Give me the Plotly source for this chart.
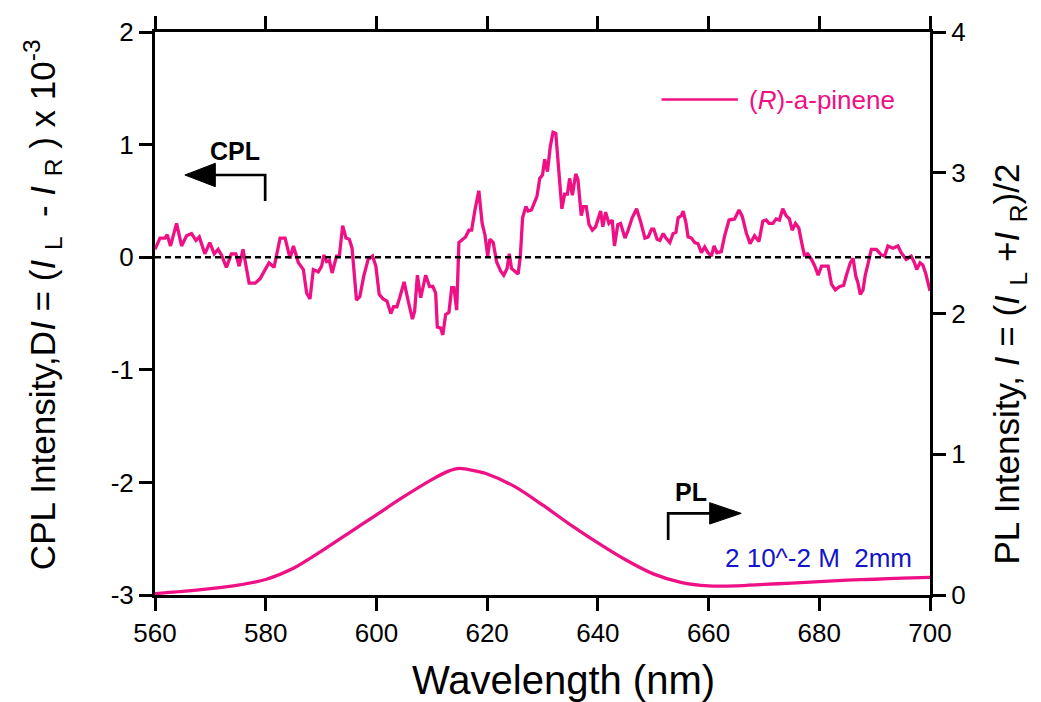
import plotly.graph_objects as go

# ---------------- data ----------------
wavelength_cpl = [
    560.0, 560.9, 561.8, 562.2, 562.8, 563.9, 564.8, 565.7, 566.6, 567.4,
    568.0, 569.0, 569.9, 570.7, 571.4, 572.0, 572.9, 573.8, 574.6, 575.2,
    575.9, 577.0, 578.1, 579.0, 579.9, 580.6, 581.5, 582.6, 583.5, 584.4,
    585.0, 585.9, 586.8, 587.4, 588.0, 588.6, 589.5, 590.1, 590.5, 591.0,
    591.5, 592.0, 592.8, 593.3, 593.9, 594.5, 595.1, 595.6, 596.4, 597.0,
    597.7, 598.5, 599.3, 599.9, 600.5, 601.2, 601.9, 602.6, 603.1, 603.7,
    604.2, 605.0, 605.7, 606.5, 606.9, 607.4, 608.0, 608.9, 609.6, 610.2,
    610.7, 611.0, 611.6, 612.0, 612.5, 613.1, 613.6, 614.0, 614.5, 614.9,
    615.6, 616.1, 616.7, 617.2, 617.8, 618.5, 619.1, 619.6, 620.1, 620.5,
    621.1, 621.7, 622.4, 623.0, 623.6, 624.0, 624.4, 625.0, 625.6, 626.0,
    626.4, 627.0, 627.4, 628.0, 628.6, 629.0, 629.5, 630.0, 630.4, 630.9,
    631.4, 631.9, 632.4, 632.8, 633.2, 633.5, 634.0, 634.5, 634.9, 635.4,
    636.0, 636.4, 637.0, 637.4, 637.9, 638.4, 639.0, 639.6, 640.5, 640.9,
    641.4, 642.0, 642.6, 643.0, 643.6, 644.1, 644.9, 645.4, 646.2, 647.0,
    647.7, 648.5, 649.1, 649.7, 650.1, 650.7, 651.2, 651.8, 652.3, 653.0,
    653.6, 654.1, 654.5, 655.1, 655.4, 655.9, 656.3, 656.9, 657.5, 658.1,
    658.7, 659.3, 659.9, 660.5, 661.0, 661.5, 662.3, 662.9, 663.7, 664.7,
    665.5, 666.1, 666.8, 667.5, 668.3, 669.1, 669.8, 670.4, 670.9, 671.6,
    672.2, 672.8, 673.4, 674.0, 674.6, 675.1, 675.7, 676.3, 676.9, 677.3,
    677.9, 678.6, 679.2, 679.8, 680.4, 681.6, 682.2, 682.9, 683.7, 684.4,
    684.9, 685.6, 686.1, 686.6, 687.0, 687.4, 687.9, 688.3, 688.8, 689.4,
    690.3, 691.2, 691.8, 692.4, 693.3, 694.2, 694.8, 695.7, 696.6, 697.2,
    697.6, 698.2, 698.7, 699.2, 700.0,
]
cpl_intensity = [
    0.07, 0.17, 0.17, 0.20, 0.10, 0.30, 0.10, 0.19, 0.21, 0.15,
    0.18, 0.03, 0.13, 0.03, 0.07, 0.02, -0.09, 0.03, 0.03, -0.08,
    0.07, -0.23, -0.23, -0.19, -0.11, -0.05, -0.09, 0.17, 0.17, -0.01,
    0.10, -0.05, -0.11, -0.32, -0.37, -0.11, -0.13, -0.08, 0.02, -0.04,
    -0.03, -0.14, 0.01, 0.01, 0.28, 0.17, 0.16, 0.08, -0.38, -0.35,
    -0.17, -0.02, 0.01, -0.08, -0.33, -0.37, -0.39, -0.50, -0.44, -0.44,
    -0.36, -0.22, -0.38, -0.55, -0.48, -0.16, -0.36, -0.16, -0.26, -0.26,
    -0.32, -0.62, -0.63, -0.69, -0.51, -0.49, -0.27, -0.27, -0.47, 0.13,
    0.16, 0.18, 0.24, 0.24, 0.42, 0.59, 0.30, 0.20, 0.01, 0.16,
    0.13, -0.04, -0.12, -0.16, -0.10, 0.03, -0.10, -0.13, -0.15, 0.01,
    0.35, 0.45, 0.41, 0.42, 0.50, 0.54, 0.70, 0.73, 0.87, 0.76,
    0.98, 1.11, 1.10, 0.85, 0.60, 0.43, 0.56, 0.56, 0.70, 0.55,
    0.74, 0.69, 0.37, 0.45, 0.45, 0.29, 0.24, 0.27, 0.41, 0.27,
    0.40, 0.30, 0.33, 0.10, 0.29, 0.30, 0.17, 0.23, 0.35, 0.43,
    0.32, 0.17, 0.18, 0.25, 0.25, 0.16, 0.15, 0.21, 0.17, 0.13,
    0.21, 0.22, 0.35, 0.37, 0.41, 0.31, 0.18, 0.17, 0.13, 0.12,
    0.04, 0.09, 0.04, 0.01, 0.10, 0.04, 0.05, 0.19, 0.33, 0.34,
    0.42, 0.36, 0.22, 0.12, 0.19, 0.14, 0.32, 0.33, 0.30, 0.30,
    0.34, 0.33, 0.43, 0.37, 0.34, 0.24, 0.30, 0.26, 0.11, 0.02,
    0.03, -0.02, -0.08, -0.16, -0.08, -0.08, -0.24, -0.29, -0.26, -0.25,
    -0.16, -0.05, -0.01, -0.17, -0.23, -0.33, -0.29, -0.16, -0.06, 0.07,
    0.07, 0.02, 0.01, 0.10, 0.08, 0.10, 0.04, -0.02, 0.01, -0.05,
    -0.11, -0.05, -0.07, -0.14, -0.30,
]

wavelength_pl = [560, 565, 570, 575, 580, 585, 590, 595, 600, 605, 610, 613,
                 615, 618, 620, 625, 630, 635, 640, 645, 650, 655, 660, 665,
                 670, 675, 680, 685, 690, 695, 700]
pl_intensity = [0.01, 0.025, 0.045, 0.07, 0.11, 0.19, 0.31, 0.44, 0.57, 0.70,
                0.82, 0.88, 0.90, 0.88, 0.86, 0.77, 0.64, 0.50, 0.37, 0.25,
                0.15, 0.09, 0.065, 0.065, 0.075, 0.085, 0.095, 0.105, 0.112,
                0.12, 0.125]

x_ticks = [560, 580, 600, 620, 640, 660, 680, 700]
y_left_ticks = [-3, -2, -1, 0, 1, 2]
y_left_labels = ["-3", "-2", "-1", "0", "1", "2"]
y_right_ticks = [0, 1, 2, 3, 4]
y_right_labels = ["0", "1", "2", "3", "4"]

series_name = "(<i>R</i>)-a-pinene"
concentration_note = "2 10^-2 M\u00a0\u00a02mm"
NB = "\u00a0"
left_title = ("CPL Intensity,D<i>I</i> = (<i>I</i>" + NB + "<sub>L</sub>" + NB + " - <i>I</i>" + NB
              + "<sub>R</sub>" + NB + ") x 10<sup>-3</sup>")
right_title = "PL Intensity, <i>I</i> = (<i>I</i>" + NB + "<sub>L</sub> +<i>I</i>" + NB + "<sub>R</sub>)/2"

# ---------------- style ----------------
PINK = "#EE1084"
BLUE = "#1414C8"
FONT = "Liberation Sans, Arial, Helvetica, sans-serif"

fig = go.Figure()
fig.add_trace(go.Scatter(x=wavelength_cpl, y=cpl_intensity, mode="lines",
                         line=dict(color=PINK, width=3.3), name=series_name,
                         showlegend=False, yaxis="y"))
fig.add_trace(go.Scatter(x=wavelength_pl, y=pl_intensity, mode="lines",
                         line=dict(color=PINK, width=3.3, shape="spline", smoothing=0.8),
                         showlegend=False, yaxis="y2"))

axis_common = dict(showgrid=False, zeroline=False, showline=True, linecolor="black",
                   linewidth=3, ticks="outside", ticklen=13, tickwidth=2.5,
                   tickcolor="black", tickfont=dict(size=26, color="black", family=FONT))

fig.update_layout(
    width=1041, height=702,
    margin=dict(l=155, r=111, t=32, b=107),
    paper_bgcolor="white", plot_bgcolor="white",
    font=dict(family=FONT, color="black"),
    xaxis=dict(range=[560, 700], tickvals=x_ticks, mirror="ticks", **axis_common),
    yaxis=dict(range=[-3, 2], tickvals=y_left_ticks, ticktext=y_left_labels, **axis_common),
    yaxis2=dict(range=[0, 4], tickvals=y_right_ticks, ticktext=y_right_labels,
                overlaying="y", side="right", **axis_common),
)

# zero reference line (dashed)
fig.add_shape(type="line", xref="x", yref="y", x0=560, x1=700, y0=0, y1=0,
              line=dict(color="black", width=2.5, dash="6px,4px"))

# legend sample line + label
fig.add_shape(type="line", xref="x", yref="y", x0=651.5, x1=665.3, y0=1.40, y1=1.40,
              line=dict(color=PINK, width=2.5))
fig.add_annotation(x=667.0, y=1.40, xref="x", yref="y", text=series_name,
                   showarrow=False, xanchor="left", yanchor="middle",
                   font=dict(size=26, color=PINK, family=FONT))

# CPL arrow (pointing left to left axis)
fig.add_shape(type="path", xref="x", yref="y",
              path="M 579.9 0.50 L 579.9 0.73 L 570.8 0.73",
              line=dict(color="black", width=2.7))
fig.add_shape(type="path", xref="x", yref="y",
              path="M 565.4 0.73 L 570.9 0.834 L 570.9 0.626 Z",
              fillcolor="black", line=dict(color="black", width=1))
fig.add_annotation(x=574.4, y=0.94, xref="x", yref="y", text="<b>CPL</b>",
                   showarrow=False, xanchor="center", yanchor="middle",
                   font=dict(size=25, color="black", family=FONT))

# PL arrow (pointing right to right axis)
fig.add_shape(type="path", xref="x", yref="y2",
              path="M 652.7 0.39 L 652.7 0.58 L 660.3 0.58",
              line=dict(color="black", width=2.7))
fig.add_shape(type="path", xref="x", yref="y2",
              path="M 665.9 0.58 L 660.2 0.656 L 660.2 0.504 Z",
              fillcolor="black", line=dict(color="black", width=1))
fig.add_annotation(x=656.8, y=0.73, xref="x", yref="y2", text="<b>PL</b>",
                   showarrow=False, xanchor="center", yanchor="middle",
                   font=dict(size=25, color="black", family=FONT))

# concentration note
fig.add_annotation(x=679.9, y=0.263, xref="x", yref="y2", text=concentration_note,
                   showarrow=False, xanchor="center", yanchor="middle",
                   font=dict(size=26, color=BLUE, family=FONT))

# axis titles
fig.add_annotation(x=-0.1457, y=0.515, xref="paper", yref="paper", textangle=-90,
                   xanchor="center", yanchor="middle", text=left_title,
                   showarrow=False, font=dict(size=35, color="black", family=FONT))
fig.add_annotation(x=1.1025, y=0.41, xref="paper", yref="paper", textangle=-90,
                   xanchor="center", yanchor="middle", text=right_title,
                   showarrow=False, font=dict(size=35, color="black", family=FONT))
fig.add_annotation(x=0.527, y=-0.151, xref="paper", yref="paper",
                   xanchor="center", yanchor="middle",
                   text="Wavelength (nm)", showarrow=False,
                   font=dict(size=40, color="black", family=FONT))

fig.write_html("out.html")
